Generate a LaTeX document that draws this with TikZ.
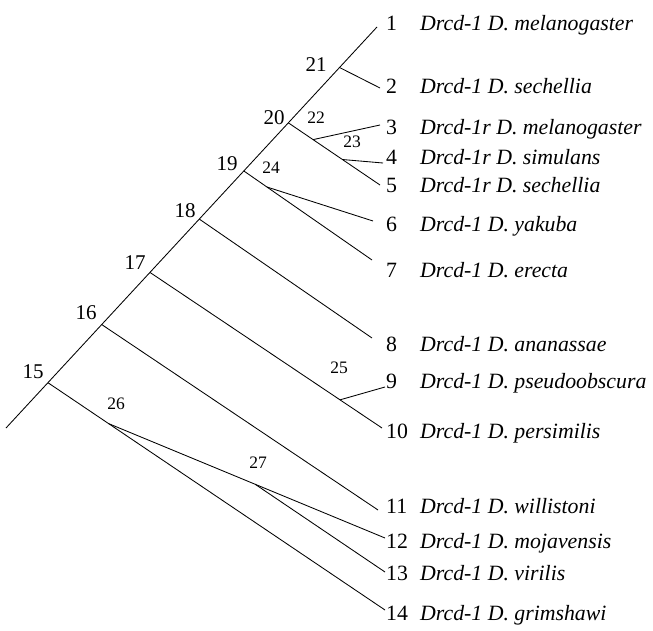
\documentclass[tikz,border=0pt]{standalone}
\usepackage{fontspec}
\setmainfont{Liberation Serif}
\usetikzlibrary{calc}

\begin{document}
\begin{tikzpicture}[x=1pt,y=-1pt]
\tikzstyle{branch}=[line width=0.85pt]
\tikzstyle{leaf}=[anchor=base west,inner sep=0pt,font=\fontsize{21.8}{24}\selectfont]
\tikzstyle{bignum}=[inner sep=0pt,font=\fontsize{21}{24}\selectfont]
\tikzstyle{smallnum}=[inner sep=0pt,font=\fontsize{17.5}{20}\selectfont]

\useasboundingbox (0,0) rectangle (653,631);

% leaf ends
\coordinate (root) at (6,428);
\coordinate (e1) at (377,27);
\coordinate (e2) at (380,88);
\coordinate (e3) at (380,125);
\coordinate (e4) at (383,163);
\coordinate (e5) at (380,185);
\coordinate (e6) at (373,221);
\coordinate (e7) at (372,260);
\coordinate (e8) at (372,338);
\coordinate (e9) at (385,387);
\coordinate (e10) at (382,428);
\coordinate (e11) at (378,510);
\coordinate (e12) at (385,538);
\coordinate (e13) at (385,572);
\coordinate (e14) at (385,610);

% inner nodes
\coordinate (n15) at ($(root)!.113!(e1)$);
\coordinate (n16) at ($(root)!.258!(e1)$);
\coordinate (n17) at ($(root)!.388!(e1)$);
\coordinate (n18) at ($(root)!.521!(e1)$);
\coordinate (n19) at ($(root)!.641!(e1)$);
\coordinate (n20) at ($(root)!.761!(e1)$);
\coordinate (n21) at ($(root)!.899!(e1)$);
\coordinate (n22) at ($(n20)!.27!(e5)$);
\coordinate (n23) at ($(n20)!.59!(e5)$);
\coordinate (n24) at ($(n19)!.18!(e7)$);
\coordinate (n25) at ($(n17)!.819!(e10)$);
\coordinate (n26) at ($(n15)!.18!(e14)$);
\coordinate (n27) at ($(n26)!.53!(e12)$);

% tree
\draw[branch] (root) -- (e1);
\draw[branch] (n21) -- (e2);
\draw[branch] (n20) -- (e5);
\draw[branch] (n22) -- (e3);
\draw[branch] (n23) -- (e4);
\draw[branch] (n19) -- (e7);
\draw[branch] (n24) -- (e6);
\draw[branch] (n18) -- (e8);
\draw[branch] (n17) -- (e10);
\draw[branch] (n25) -- (e9);
\draw[branch] (n16) -- (e11);
\draw[branch] (n15) -- (e14);
\draw[branch] (n26) -- (e12);
\draw[branch] (n27) -- (e13);

% node numbers
\node[bignum] (l15) at (33,372) {15};
\node[bignum] (l16) at (86,313) {16};
\node[bignum] (l17) at (135,263) {17};
\node[bignum] (l18) at (185,211) {18};
\node[bignum] (l19) at (227,164) {19};
\node[bignum] (l20) at (274,118) {20};
\node[bignum] (l21) at (316,65) {21};
\node[smallnum] (l22) at (316,118) {22};
\node[smallnum] (l23) at (352,142) {23};
\node[smallnum] (l24) at (271,168) {24};
\node[smallnum] (l25) at (339,368) {25};
\node[smallnum] (l26) at (116,404) {26};
\node[smallnum] (l27) at (258,463) {27};

% taxa
\node[leaf] (t1) at (386,31) {\makebox[34pt][l]{1}\textit{Drcd-1 D. melanogaster}};
\node[leaf] (t2) at (386,94) {\makebox[34pt][l]{2}\textit{Drcd-1 D. sechellia}};
\node[leaf] (t3) at (386,135) {\makebox[34pt][l]{3}\textit{Drcd-1r D. melanogaster}};
\node[leaf] (t4) at (386,165) {\makebox[34pt][l]{4}\textit{Drcd-1r D. simulans}};
\node[leaf] (t5) at (386,193) {\makebox[34pt][l]{5}\textit{Drcd-1r D. sechellia}};
\node[leaf] (t6) at (386,232) {\makebox[34pt][l]{6}\textit{Drcd-1 D. yakuba}};
\node[leaf] (t7) at (386,277) {\makebox[34pt][l]{7}\textit{Drcd-1 D. erecta}};
\node[leaf] (t8) at (386,351) {\makebox[34pt][l]{8}\textit{Drcd-1 D. ananassae}};
\node[leaf] (t9) at (386,388) {\makebox[34pt][l]{9}\textit{Drcd-1 D. pseudoobscura}};
\node[leaf] (t10) at (386,438) {\makebox[34pt][l]{10}\textit{Drcd-1 D. persimilis}};
\node[leaf] (t11) at (386,513) {\makebox[34pt][l]{11}\textit{Drcd-1 D. willistoni}};
\node[leaf] (t12) at (386,548) {\makebox[34pt][l]{12}\textit{Drcd-1 D. mojavensis}};
\node[leaf] (t13) at (386,580) {\makebox[34pt][l]{13}\textit{Drcd-1 D. virilis}};
\node[leaf] (t14) at (386,620) {\makebox[34pt][l]{14}\textit{Drcd-1 D. grimshawi}};
\end{tikzpicture}
\end{document}
